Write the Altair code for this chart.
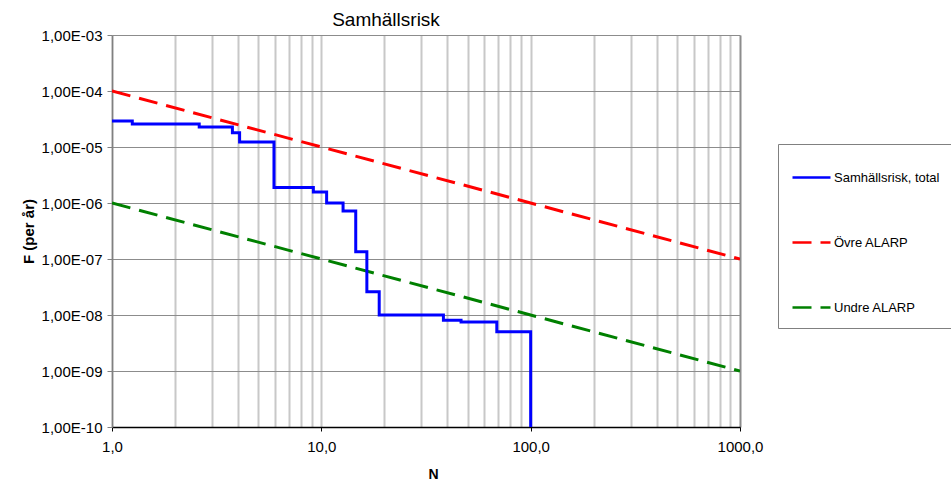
import altair as alt
import pandas as pd

# Step curve (total societal risk)
N_total = [1, 1.25, 2.61, 3.76, 4.07, 5.94, 9.16, 10.6, 12.7, 14.6, 16.5, 18.9, 38.3, 46.5, 68.9, 100]
F_total = [2.9e-5, 2.58e-5, 2.28e-5, 1.8e-5, 1.23e-5, 1.9e-6, 1.58e-6, 1.0e-6, 7.2e-7,
           1.35e-7, 2.6e-8, 1.0e-8, 8.1e-9, 7.5e-9, 5.0e-9, 1e-10]

# ALARP limits
N_alarp = [1, 1000]
F_upper = [1e-4, 1e-7]
F_lower = [1e-6, 1e-9]

series_names = ["Samhällsrisk, total", "Övre ALARP", "Undre ALARP"]
series_colors = ["#0000ff", "#ff0000", "#008000"]
series_dash = [[1, 0], [19, 9], [19, 9]]

x_ticks = [1, 2, 3, 4, 5, 6, 7, 8, 9, 10, 20, 30, 40, 50, 60, 70, 80, 90,
           100, 200, 300, 400, 500, 600, 700, 800, 900, 1000]
x_label_values = [1, 10, 100, 1000]
y_ticks = [1e-10, 1e-9, 1e-8, 1e-7, 1e-6, 1e-5, 1e-4, 1e-3]

df_total = pd.DataFrame({"N": N_total, "F": F_total, "serie": series_names[0]})
df_alarp = pd.concat([
    pd.DataFrame({"N": N_alarp, "F": F_upper, "serie": series_names[1]}),
    pd.DataFrame({"N": N_alarp, "F": F_lower, "serie": series_names[2]}),
])

FONT = "Liberation Sans"

x_enc = alt.X(
    "N:Q",
    scale=alt.Scale(type="log", domain=[1, 1000], nice=False),
    axis=alt.Axis(
        values=x_ticks,
        labelExpr="indexof([1,10,100,1000], datum.value) >= 0 ? replace(format(datum.value, '.1f'), '.', ',') : ''",
        labelOverlap=False, labelFlush=False,
        labelFont=FONT, labelFontSize=15, labelColor="#000000", labelPadding=8,
        tickSize=4, tickColor="#000000",
        tickOpacity={"condition": {"test": "indexof([1,10,100,1000], datum.value) >= 0", "value": 1}, "value": 0},
        domainColor="#000000", domainWidth=1.5,
        grid=True,
        gridColor={"condition": {"test": "datum.value == 1000", "value": "#8c8c8c"}, "value": "#c8c8c8"},
        gridWidth=2,
        title="N", titleFont=FONT, titleFontSize=14, titleFontWeight="bold",
        titleX=321, titleY=51, titleBaseline="alphabetic",
    ),
)
y_enc = alt.Y(
    "F:Q",
    scale=alt.Scale(type="log", domain=[1e-10, 1e-3], nice=False),
    axis=alt.Axis(
        values=y_ticks,
        labelExpr="'1,00E' + (round(log(datum.value)/LN10) < 0 ? '-' : '+') + (abs(round(log(datum.value)/LN10)) < 10 ? '0' : '') + abs(round(log(datum.value)/LN10))",
        labelFlush=False,
        labelFont=FONT, labelFontSize=15, labelColor="#000000", labelPadding=5,
        tickSize=5, tickColor="#808080",
        domainColor="#808080", domainWidth=1.5,
        grid=True, gridColor="#8c8c8c", gridWidth=1,
        title="F (per år)", titleFont=FONT, titleFontSize=15, titleFontWeight="bold",
        titleX=-79, titleY=196, titleAngle=270, titleBaseline="alphabetic",
    ),
)

color_enc = alt.Color(
    "serie:N",
    scale=alt.Scale(domain=series_names, range=series_colors),
    legend=alt.Legend(title=None),
)
dash_enc = alt.StrokeDash(
    "serie:N",
    scale=alt.Scale(domain=series_names, range=series_dash),
    legend=alt.Legend(title=None),
)

alarp = alt.Chart(df_alarp).mark_line(strokeWidth=3, clip=True).encode(
    x=x_enc, y=y_enc, color=color_enc, strokeDash=dash_enc, detail="serie:N"
)
total = alt.Chart(df_total).mark_line(strokeWidth=3, interpolate="step-after", clip=True).encode(
    x=x_enc, y=y_enc, color=color_enc, strokeDash=dash_enc
)

chart = (
    alt.layer(alarp, total)
    .properties(
        width=628,
        height=392,
        padding={"left": 112, "top": 35, "right": 211, "bottom": 54},
        autosize="none",
        title=alt.TitleParams(
            "Samhällsrisk", font=FONT, fontSize=19, fontWeight="normal", color="#000000",
            anchor="middle", dx=-40, dy=25, offset=8, baseline="alphabetic",
        ),
    )
    .configure_view(stroke=None)
    .configure_legend(
        orient="none", legendX=666, legendY=109,
        strokeColor="#808080", fillColor="#ffffff", padding=13,
        symbolType="stroke", symbolSize=1444, symbolStrokeWidth=2.5,
        labelFont=FONT, labelFontSize=13, labelColor="#000000", labelOffset=2,
        rowPadding=37, labelLimit=200,
    )
)

chart.save("out.html", embed_options={"renderer": "svg", "actions": False})
